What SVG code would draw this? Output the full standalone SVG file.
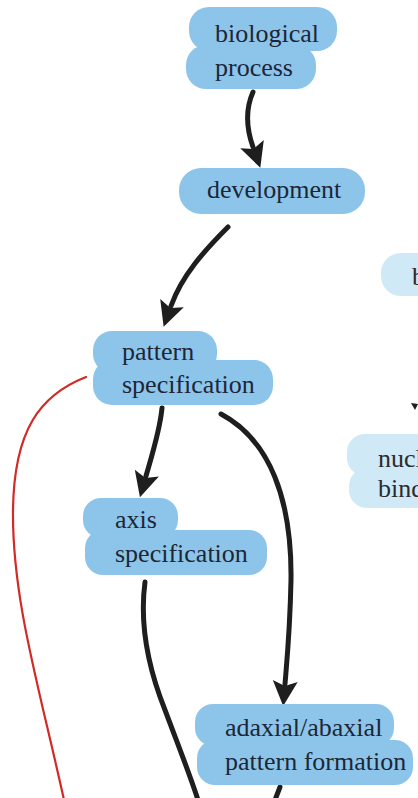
<svg xmlns="http://www.w3.org/2000/svg" width="418" height="798" viewBox="0 0 418 798">
  <style>
    .blob { fill: #8dc5ea; }
    .blob-light { fill: #d0e9f7; }
    .label { font-family: "Liberation Serif", "Times New Roman", serif; font-size: 26px; fill: #1d2636; }
    .label-light { font-family: "Liberation Serif", "Times New Roman", serif; font-size: 26px; fill: #2b2b2b; }
    .edge { fill: none; stroke: #1e1e1e; stroke-width: 5; stroke-linecap: round; }
    .edge-red { fill: none; stroke: #d22a26; stroke-width: 2.2; stroke-linecap: round; }
  </style>
  <defs>
    <marker id="head" markerUnits="userSpaceOnUse" markerWidth="40" markerHeight="40" refX="0" refY="0" orient="auto" overflow="visible">
      <path d="M22,0 L-3,-12.5 L2,0 L-3,12.5 Z" fill="#1e1e1e"/>
    </marker>
  </defs>

  <rect width="418" height="798" fill="#ffffff"/>

  <!-- connectors -->
  <g id="connectors">
    <path class="edge" d="M253 92 C245 110, 247 130, 253 147" marker-end="url(#head)"/>
    <path class="edge" d="M228 227 C205 250, 182 275, 171 306" marker-end="url(#head)"/>
    <path class="edge" d="M162 408 C160 430, 152 455, 146 476" marker-end="url(#head)"/>
    <path class="edge" d="M221 414 C270 440, 292 500, 291 580 C290 630, 287 660, 285 684" marker-end="url(#head)"/>
    <path class="edge" d="M145 582 C140 620, 145 660, 165 710 C180 750, 190 775, 198 800"/>
    <path class="edge" d="M280 787 L275 800"/>
    <path class="edge-red" d="M86 377 C40 395, 14 430, 13 510 C12 600, 40 690, 64 800"/>
    <path d="M411 403 L418 404 L415 410 Z" fill="#1e1e1e"/>
  </g>

  <!-- nodes -->
  <g id="node-biological-process">
    <rect class="blob" x="189" y="7" width="148" height="44" rx="20"/>
    <rect class="blob" x="186" y="45" width="130" height="44" rx="20"/>
    <text class="label" x="215" y="42">biological</text>
    <text class="label" x="215" y="76">process</text>
  </g>

  <g id="node-development">
    <rect class="blob" x="179" y="168" width="186" height="46" rx="22"/>
    <text class="label" x="207" y="198">development</text>
  </g>

  <g id="node-pattern-specification">
    <rect class="blob" x="93" y="331" width="124" height="42" rx="19"/>
    <rect class="blob" x="93" y="360" width="180" height="45" rx="19"/>
    <text class="label" x="122" y="360">pattern</text>
    <text class="label" x="122" y="393">specification</text>
  </g>

  <g id="node-axis-specification">
    <rect class="blob" x="83" y="498" width="95" height="40" rx="18"/>
    <rect class="blob" x="85" y="530" width="182" height="45" rx="18"/>
    <text class="label" x="115" y="528">axis</text>
    <text class="label" x="115" y="562">specification</text>
  </g>

  <g id="node-adaxial-abaxial">
    <rect class="blob" x="195" y="704" width="199" height="42" rx="18"/>
    <rect class="blob" x="197" y="740" width="216" height="45" rx="18"/>
    <text class="label" x="225" y="736">adaxial/abaxial</text>
    <text class="label" x="225" y="770">pattern formation</text>
  </g>

  <g id="node-binding">
    <rect class="blob-light" x="381" y="253" width="60" height="43" rx="20"/>
    <text class="label-light" x="412" y="285">b</text>
  </g>

  <g id="node-nucleic-binding">
    <rect class="blob-light" x="347" y="434" width="90" height="42" rx="18"/>
    <rect class="blob-light" x="349" y="468" width="90" height="40" rx="18"/>
    <text class="label-light" x="378" y="467">nucl</text>
    <text class="label-light" x="378" y="497">bind</text>
  </g>
</svg>
